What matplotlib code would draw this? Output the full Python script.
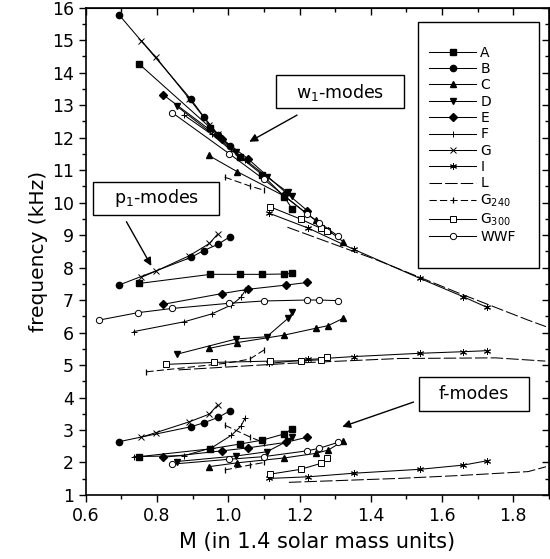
import numpy as np
import matplotlib
matplotlib.use('Agg')
import matplotlib.pyplot as plt
from matplotlib.ticker import MultipleLocator
from matplotlib.patches import Rectangle

nan = np.nan

# masses (in 1.4 solar mass units) and frequencies (kHz) per EOS
a_m = [0.75, 0.95, 1.034, 1.096, 1.157, 1.18]
a_w = [14.26, 12.3, 11.39, 10.85, 10.18, 9.79]
a_p = [7.51, 7.79, 7.79, 7.79, 7.80, 7.82]
a_f = [2.18, 2.42, 2.57, 2.69, 2.88, 3.04]

b_m = [0.693, 0.895, 0.931, 0.972, 1.005]
b_w = [15.78, 13.18, 12.64, 12.08, 11.75]
b_p = [7.46, 8.31, 8.52, 8.72, 8.95]
b_f = [2.64, 3.10, 3.22, 3.39, 3.59]

c_m = [0.945, 1.025, 1.157, 1.245, 1.28, 1.323]
c_w = [11.45, 10.95, 10.2, 9.45, 9.15, 8.79]
c_p = [5.51, 5.69, 5.92, 6.13, 6.21, 6.44]
c_f = [1.87, 1.99, 2.14, 2.28, 2.38, 2.66]

d_m = [0.855, 1.022, 1.108, 1.168, 1.18]
d_w = [12.97, 11.54, 10.79, 10.31, 10.19]
d_p = [5.33, 5.80, 5.87, 6.44, 6.62]
d_f = [2.03, 2.20, 2.33, 2.67, 2.78]

e_m = [0.818, 0.983, 1.055, 1.162, 1.222]
e_w = [13.31, 11.95, 11.35, 10.3, 9.75]
e_p = [6.87, 7.20, 7.33, 7.46, 7.54]
e_f = [2.16, 2.36, 2.45, 2.62, 2.78]

f_m = [0.735, 0.876, 0.953, 1.009, 1.035, 1.048]
f_w = [nan, 12.69, 12.1, 11.6, 11.4, 11.3]
f_p = [6.03, 6.33, 6.57, 6.85, 7.08, 7.30]
f_f = [2.18, 2.21, 2.45, 2.84, 3.11, 3.38]

g_m = [0.756, 0.797, 0.89, 0.947, 0.97]
g_w = [14.98, 14.47, 13.2, 12.4, 12.1]
g_p = [7.70, 7.89, 8.36, 8.74, 9.03]
g_f = [2.78, 2.92, 3.25, 3.49, 3.77]

i_m = [1.115, 1.225, 1.352, 1.537, 1.66, 1.725]
i_w = [9.67, 9.21, 8.56, 7.67, 7.10, 6.78]
i_p = [5.05, 5.17, 5.26, 5.36, 5.41, 5.44]
i_f = [1.51, 1.56, 1.67, 1.79, 1.92, 2.05]

l_w_m = [1.166, 1.413, 1.65, 1.842, 1.892]
l_w = [9.24, 8.25, 7.2, 6.38, 6.18]
l_p_m = [0.86, 1.17, 1.48, 1.75, 1.89]
l_p = [4.85, 5.05, 5.20, 5.22, 5.12]
l_f_m = [1.17, 1.30, 1.478, 1.65, 1.842, 1.892]
l_f = [1.39, 1.44, 1.51, 1.60, 1.72, 1.87]

g240_m = [0.77, 0.99, 1.06, 1.10]
g240_w = [nan, 10.78, 10.51, 10.38]
g240_p = [4.79, 5.05, 5.18, 5.46]
g240_f = [nan, 1.77, 1.92, 2.0]
g240_f2 = [nan, 3.15, 2.79, 2.61]

g300_m = [0.826, 0.961, 1.117, 1.203, 1.259, 1.278]
g300_w = [nan, nan, 9.87, 9.49, 9.21, 9.12]
g300_p = [5.02, 5.08, 5.12, 5.13, 5.16, 5.26]
g300_f = [nan, nan, 1.64, 1.79, 1.97, 2.13]

wwf_m = [0.636, 0.746, 0.842, 1.003, 1.099, 1.222, 1.256, 1.308]
wwf_w = [nan, nan, 12.77, 11.5, 10.72, 9.64, 9.38, 8.97]
wwf_p = [6.38, 6.61, 6.74, 6.90, 6.97, 7.0, 7.0, 6.98]
wwf_f = [nan, nan, 1.95, 2.10, 2.18, 2.36, 2.44, 2.62]

plt.rcParams['font.family'] = ['DejaVu Sans']
fig = plt.figure(figsize=(5.5, 5.59), dpi=100)
ax = fig.add_axes([0.156, 0.1145, 0.842, 0.872])

lw = 0.75
styles = {
    'A': dict(marker='s', ms=4.2, mfc='k', mec='k'),
    'B': dict(marker='o', ms=4.5, mfc='k', mec='k'),
    'C': dict(marker='^', ms=5, mfc='k', mec='k'),
    'D': dict(marker='v', ms=5, mfc='k', mec='k'),
    'E': dict(marker='D', ms=3.8, mfc='k', mec='k'),
    'F': dict(marker='+', ms=5, mew=0.7, mec='k'),
    'G': dict(marker='x', ms=4.5, mew=0.7, mec='k'),
    'I': dict(marker=(6, 2, 0), ms=5, mew=0.7, mec='k'),
    'L': dict(marker='', dashes=(12, 3)),
    'G240': dict(marker='|', ms=4, mew=0.9, mec='k', dashes=(7, 3)),
    'G300': dict(marker='s', ms=4.2, mfc='white', mec='k', mew=0.7),
    'WWF': dict(marker='o', ms=4.5, mfc='white', mec='k', mew=0.7),
}

series = [
    ('A', [(a_m, a_w), (a_m, a_p), (a_m, a_f)]),
    ('B', [(b_m, b_w), (b_m, b_p), (b_m, b_f)]),
    ('C', [(c_m, c_w), (c_m, c_p), (c_m, c_f)]),
    ('D', [(d_m, d_w), (d_m, d_p), (d_m, d_f)]),
    ('E', [(e_m, e_w), (e_m, e_p), (e_m, e_f)]),
    ('F', [(f_m, f_w), (f_m, f_p), (f_m, f_f)]),
    ('G', [(g_m, g_w), (g_m, g_p), (g_m, g_f)]),
    ('I', [(i_m, i_w), (i_m, i_p), (i_m, i_f)]),
    ('L', [(l_w_m, l_w), (l_p_m, l_p), (l_f_m, l_f)]),
    ('G240', [(g240_m, g240_w), (g240_m, g240_p), (g240_m, g240_f), (g240_m, g240_f2)]),
    ('G300', [(g300_m, g300_w), (g300_m, g300_p), (g300_m, g300_f)]),
    ('WWF', [(wwf_m, wwf_w), (wwf_m, wwf_p), (wwf_m, wwf_f)]),
]
labels = {'G240': r'G$_{240}$', 'G300': r'G$_{300}$'}

handles = []
for name, curves in series:
    for k, (m, y) in enumerate(curves):
        m = np.asarray(m, float)
        y = np.asarray(y, float)
        ok = ~np.isnan(y)
        h, = ax.plot(m[ok], y[ok], color='k', lw=lw, **styles[name])
        if k == 0:
            handles.append((h, labels.get(name, name)))

ax.set_xlim(0.6, 1.9)
ax.set_ylim(1, 16)
ax.xaxis.set_minor_locator(MultipleLocator(0.1))
ax.yaxis.set_major_locator(MultipleLocator(1))
ax.yaxis.set_minor_locator(MultipleLocator(0.5))
xt = np.arange(0.6, 1.81, 0.2)
ax.set_xticks(xt)
ax.set_xticklabels(['%.1f' % v for v in xt])
ax.tick_params(which='both', direction='out', labelsize=12.5, width=1)
ax.tick_params(which='major', length=5)
ax.tick_params(which='minor', length=3)
for s in ax.spines.values():
    s.set_linewidth(1.2)

top = ax.secondary_xaxis('top')
top.xaxis.set_major_locator(MultipleLocator(0.2))
top.xaxis.set_minor_locator(MultipleLocator(0.1))
top.tick_params(which='both', direction='in', labeltop=False, width=1)
top.tick_params(which='major', length=5)
top.tick_params(which='minor', length=3)
right = ax.secondary_yaxis('right')
right.yaxis.set_major_locator(MultipleLocator(1))
right.yaxis.set_minor_locator(MultipleLocator(0.5))
right.tick_params(which='both', direction='in', labelright=False, width=1)
right.tick_params(which='major', length=5)
right.tick_params(which='minor', length=3)

ax.set_xlabel('M (in 1.4 solar mass units)', fontsize=15, labelpad=5)
ax.set_ylabel('frequency (kHz)', fontsize=14.5, labelpad=3)

# legend with its own frame
leg = ax.legend([h for h, _ in handles], [t for _, t in handles], loc='upper left',
                bbox_to_anchor=(0.741, 0.922), frameon=False, fontsize=10,
                borderpad=0, borderaxespad=0, handlelength=3.4, handletextpad=0.3,
                labelspacing=0.17, numpoints=1)
ax.add_patch(Rectangle((0.718, 0.465), 0.261, 0.506, transform=ax.transAxes,
                       fill=False, ec='k', lw=1.0, zorder=5))

# mode labels
boxes = [
    (1.134, 12.91, 0.358, 1.01, 1.313, 13.40, r'w$_1$-modes'),
    (0.620, 9.615, 0.355, 1.025, 0.798, 10.13, r'p$_1$-modes'),
    (1.534, 3.59, 0.311, 1.04, 1.69, 4.11, 'f-modes'),
]
for x0, y0, w, h, tx, ty, txt in boxes:
    ax.add_patch(Rectangle((x0, y0), w, h, fill=True, fc='white', ec='k', lw=1.0, zorder=6))
    ax.text(tx, ty, txt, ha='center', va='center', fontsize=12.5, zorder=7)

arrows = [((1.193, 12.69), (1.059, 11.87)),
          ((0.714, 9.41), (0.784, 8.05)),
          ((1.52, 3.86), (1.32, 3.10))]
for tail, head in arrows:
    ax.annotate('', xy=head, xytext=tail,
                arrowprops=dict(arrowstyle='-|>', color='k', lw=1.0, mutation_scale=12,
                                shrinkA=0, shrinkB=0))

fig.savefig('out.png', dpi=100)
